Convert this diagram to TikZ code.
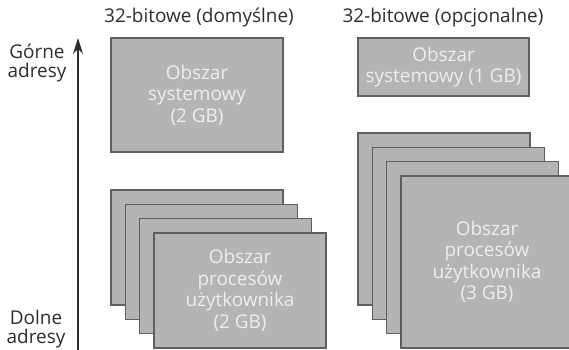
\documentclass[tikz,border=0pt]{standalone}
\usepackage{fontspec}
\setmainfont{Open Sans}
\usetikzlibrary{arrows.meta,positioning}
\definecolor{boxfill}{RGB}{180,180,182}
\definecolor{boxline}{RGB}{95,95,95}
\definecolor{boxtext}{RGB}{238,238,238}
\definecolor{darktext}{RGB}{45,45,45}

\begin{document}
\begin{tikzpicture}[x=1bp,y=-1bp,
	area/.style={draw=boxline,fill=boxfill,line width=1.4bp,inner sep=0pt,
		text=boxtext,align=center,font=\fontsize{19}{21.5}\selectfont},
	title/.style={text=darktext,font=\fontsize{19}{20}\selectfont},
	addr/.style={text=darktext,align=center,font=\fontsize{19}{19}\selectfont}]
	\useasboundingbox (0,0) rectangle (569,349);
	\clip (0,0) rectangle (569,349);
	% axis
	\coordinate (low) at (78,352);
	\coordinate (high) at (78,38);
	\draw[line width=1.3bp,darktext,-{Stealth[length=16bp,width=10bp]}] (low) -- (high);
	\node[addr] (top) at (37,63) {Górne\\adresy};
	\node[addr] (bottom) at (36,329) {Dolne\\adresy};
	% default 2/2
	\node[title] (defaulttitle) at (199,18) {32-bitowe (domyślne)};
	\node[area,minimum width=172bp,minimum height=114bp] (sys2) at (197,95)
		{Obszar\\systemowy\\(2 GB)};
	\foreach \k in {0,1,2}
		\node[area,minimum width=172bp,minimum height=115bp] (user2-\k)
			at (197+14.3*\k,247.5+14.3*\k) {};
	\node[area,minimum width=172bp,minimum height=115bp] (user2) at (240,290.4)
		{Obszar\\procesów\\użytkownika\\(2 GB)};
	% optional 3/1
	\node[title] (optiontitle) at (443,18) {32-bitowe (opcjonalne)};
	\node[area,minimum width=171bp,minimum height=58bp] (sys1) at (443.5,67)
		{Obszar\\systemowy (1 GB)};
	\foreach \k in {0,1,2}
		\node[area,minimum width=172bp,minimum height=172bp] (user3-\k)
			at (444+14.3*\k,219+14.3*\k) {};
	\node[area,minimum width=172bp,minimum height=172bp] (user3) at (487,262)
		{Obszar\\procesów\\użytkownika\\(3 GB)};
\end{tikzpicture}
\end{document}
